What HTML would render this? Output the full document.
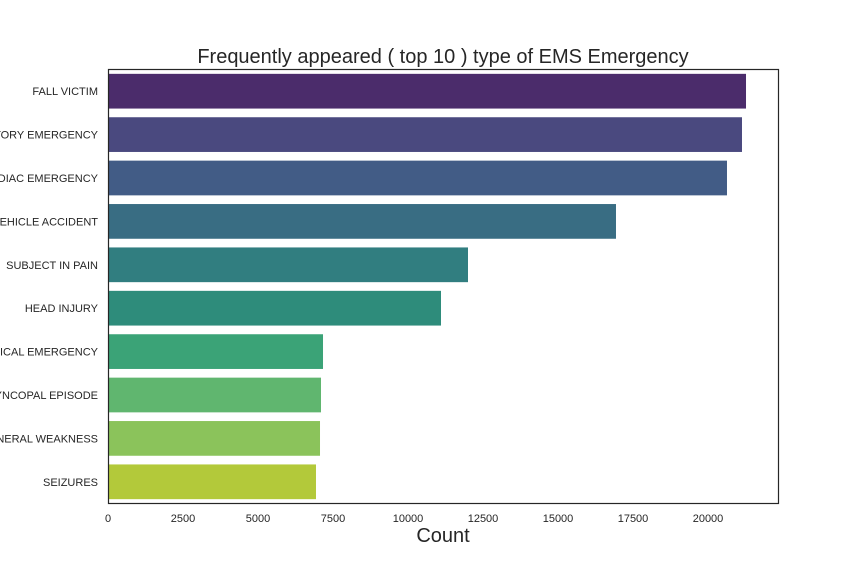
<!DOCTYPE html>
<html><head><meta charset="utf-8"><style>
html,body{margin:0;padding:0;background:#fff;width:864px;height:576px;overflow:hidden}
text{font-family:"Liberation Sans",Arial,sans-serif}
</style></head><body>
<svg id="chart" width="864" height="576" xmlns="http://www.w3.org/2000/svg">
<text x="443" y="63" font-size="20" text-anchor="middle" fill="#262626">Frequently appeared ( top 10 ) type of EMS Emergency</text>
<g id="bars"></g>
<g id="ylabels"></g>
<g id="xticks"></g>
<rect x="108.5" y="69.5" width="670" height="434" fill="none" stroke="#262626" stroke-width="1.2"/>
<text x="443" y="542" font-size="20" text-anchor="middle" fill="#262626">Count</text>
</svg>
<script>
const categories = ["FALL VICTIM","RESPIRATORY EMERGENCY","CARDIAC EMERGENCY","VEHICLE ACCIDENT","SUBJECT IN PAIN","HEAD INJURY","UNKNOWN MEDICAL EMERGENCY","SYNCOPAL EPISODE","GENERAL WEAKNESS","SEIZURES"];
const counts = [21267,21133,20633,16933,12000,11100,7167,7100,7067,6933];
const xTicks = [0,2500,5000,7500,10000,12500,15000,17500,20000];
const colors = ["#4b2c6b","#4a497f","#425c86","#396d83","#317e80","#2e8c7b","#3ba377","#60b66f","#8bc35b","#b3c93a"];
const NS="http://www.w3.org/2000/svg";
const X0=108,PX=75/2500,Y0=69.5,ROW=43.4;
const xs=v=>X0+v*PX;
const bars=document.getElementById('bars'),yl=document.getElementById('ylabels'),xt=document.getElementById('xticks');
categories.forEach((c,i)=>{
  const r=document.createElementNS(NS,'rect');
  
  
  r.setAttribute('x',xs(0));r.setAttribute('y',Y0+i*ROW+ROW*0.1);
  r.setAttribute('width',xs(counts[i])-xs(0));r.setAttribute('height',ROW*0.8);
  r.setAttribute('fill',colors[i]);bars.appendChild(r);
  const t=document.createElementNS(NS,'text');
  
  
  t.setAttribute('x',98);t.setAttribute('y',Y0+i*ROW+ROW/2+4);
  t.setAttribute('text-anchor','end');t.setAttribute('font-size','11');t.setAttribute('fill','#262626');
  t.textContent=c;yl.appendChild(t);
});
xTicks.forEach(v=>{
  const t=document.createElementNS(NS,'text');
  
  
  t.setAttribute('x',xs(v));t.setAttribute('y',522);
  t.setAttribute('text-anchor','middle');t.setAttribute('font-size','11');t.setAttribute('fill','#262626');
  t.textContent=v;xt.appendChild(t);
});
</script>
</body></html>
